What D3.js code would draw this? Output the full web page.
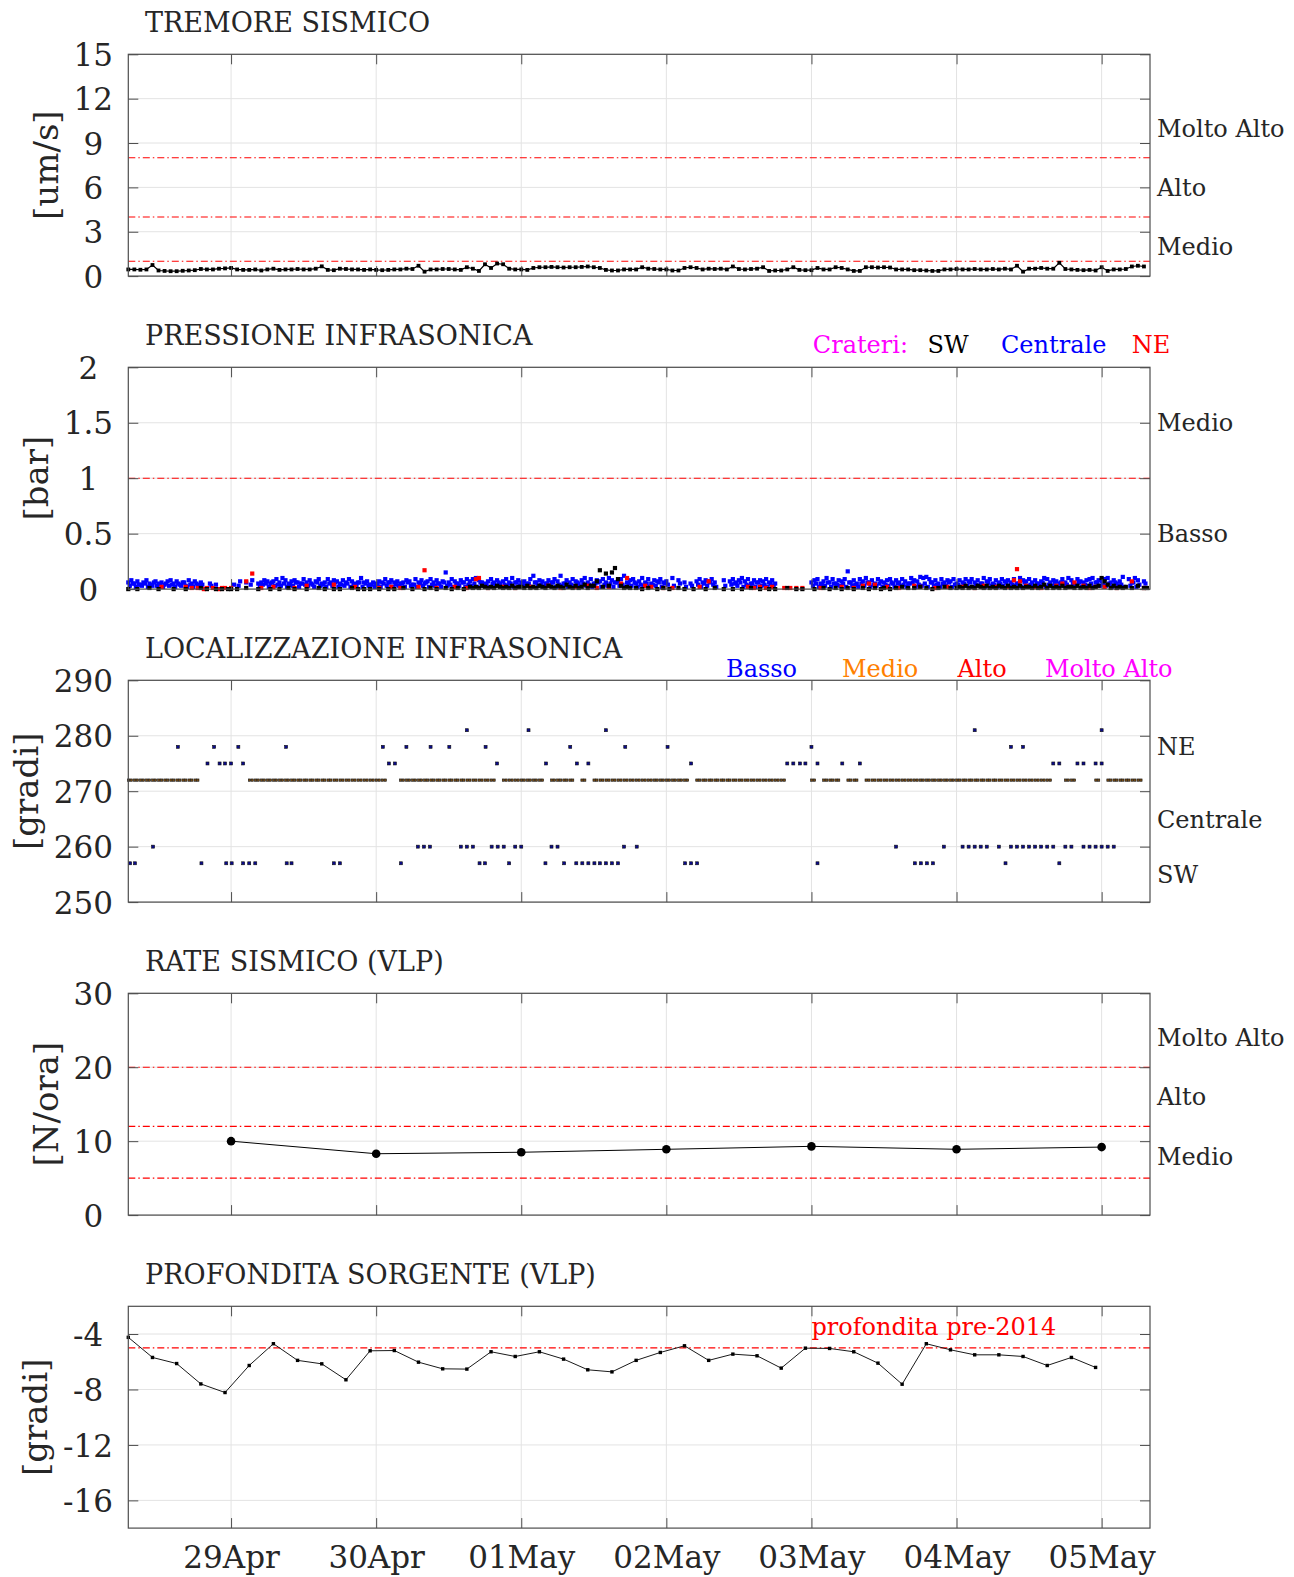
<!DOCTYPE html>
<html>
<head>
<meta charset="utf-8">
<script src="https://cdn.jsdelivr.net/npm/d3@7"></script>
<style>
body { margin: 0; background: #fff; }
text { font-family: "DejaVu Serif", serif; fill: #262626; }
</style>
</head>
<body>
<div id="chart"></div>
<script>
// time axis runs from 28Apr 07:00 to 05May 08:00
var startTime = new Date(Date.UTC(2021, 3, 28, 7));
var endTime = new Date(Date.UTC(2021, 4, 5, 8));
var dayTicks = d3.utcDay.range(new Date(Date.UTC(2021, 3, 29)), new Date(Date.UTC(2021, 4, 5, 1)));

var panelTitles = ["TREMORE SISMICO", "PRESSIONE INFRASONICA", "LOCALIZZAZIONE INFRASONICA", "RATE SISMICO (VLP)", "PROFONDITA SORGENTE (VLP)"];
var yLabels = ["[um/s]", "[bar]", "[gradi]", "[N/ora]", "[gradi]"];
var yDomains = [[0, 15], [0, 2], [250, 290], [0, 30], [-18, -2]];
var yTickVals = [[0, 3, 6, 9, 12, 15], [0, 0.5, 1, 1.5, 2], [250, 260, 270, 280, 290], [0, 10, 20, 30], [-16, -12, -8, -4]];

// soglie (linee rosse tratto-punto)
var thresholds = [[1, 4, 8], [1], [], [5, 12, 20], [-5]];
// etichette di livello a destra
var levelNames = [["Medio", "Alto", "Molto Alto"], ["Basso", "Medio"], ["SW", "Centrale", "NE"], ["Medio", "Alto", "Molto Alto"], []];
var levelPos = [[2, 6, 10], [0.5, 1.5], [255, 265, 278], [8, 16, 24], []];

// tremore: un valore ogni ora dalle 07:00 del 28Apr
var tremor = [
  0.45,0.45,0.43,0.45,0.75,0.38,0.35,0.33,0.33,0.36,
  0.38,0.40,0.48,0.45,0.45,0.50,0.52,0.55,0.45,0.42,
  0.42,0.45,0.38,0.45,0.50,0.42,0.45,0.45,0.48,0.45,
  0.45,0.50,0.66,0.42,0.40,0.50,0.48,0.45,0.45,0.42,
  0.45,0.42,0.40,0.42,0.45,0.45,0.50,0.48,0.70,0.30,
  0.45,0.45,0.48,0.48,0.45,0.42,0.60,0.50,0.35,0.80,
  0.55,0.85,0.80,0.50,0.45,0.45,0.42,0.55,0.60,0.60,
  0.62,0.60,0.58,0.60,0.60,0.62,0.65,0.60,0.55,0.42,
  0.38,0.38,0.45,0.45,0.45,0.60,0.50,0.48,0.45,0.45,
  0.38,0.38,0.55,0.60,0.55,0.45,0.50,0.48,0.50,0.45,
  0.65,0.48,0.45,0.48,0.50,0.60,0.35,0.38,0.38,0.45,
  0.60,0.42,0.40,0.40,0.55,0.45,0.45,0.60,0.55,0.45,
  0.35,0.35,0.60,0.60,0.58,0.60,0.58,0.45,0.45,0.45,
  0.40,0.40,0.38,0.35,0.35,0.45,0.45,0.48,0.45,0.45,
  0.48,0.45,0.45,0.48,0.45,0.50,0.45,0.70,0.30,0.50,
  0.50,0.55,0.50,0.50,0.90,0.48,0.45,0.42,0.40,0.42,
  0.38,0.60,0.35,0.45,0.45,0.48,0.65,0.70,0.65
];

// pressione: un carattere ogni 30 min, valore in centesimi di bar (base 36), "-" = nessun dato
// la prima stringa parte dalle 07:00 del 28Apr, le altre dalla mezzanotte dei giorni seguenti
var centraleDays = [
  "68574685" + "37564785" + "74638574" + "6--5-4--" + "--",
  "-4-7-6-8" + "-5687579" + "6a857865" + "96847956" + "96875869" + "756a6746",
  "57696867" + "56874968" + "5796857f" + "69758697" + "9a865796" + "85796a68",
  "6759c687" + "58697c58" + "69758a69" + "58796a86" + "79c68957" + "a6958796",
  "7-a-8-6-" + "5-796879" + "6--8-796" + "8a795868" + "79685---" + "--------",
  "68957a69" + "5879g685" + "97a68597" + "68958697" + "5a87bab9" + "68596879",
  "58697968" + "5a795869" + "78695a87" + "96857a96" + "87596a85" + "97689a68",
  "79a6857b" + "-96a8-7-"
];
// seconda serie di punti del cratere centrale, sfasata di 15 min
var centraleDays2 = [
  "35243524" + "63425342" + "53624253" + "4--3----" + "--",
  "--3---4-" + "-3452634" + "35243625" + "43526342" + "53624352" + "43625342",
  "42536243" + "52634253" + "62435263" + "42536243" + "52634253" + "62435263",
  "43526342" + "53624352" + "43625342" + "56243526" + "34253624" + "35243625",
  "4-3-5-2-" + "3-425364" + "2--3-453" + "62435263" + "4253----" + "--------",
  "35243625" + "43526342" + "53624352" + "43625342" + "56243526" + "34253624",
  "42536243" + "52634253" + "62435263" + "42536243" + "52634253" + "62435263",
  "43526342" + "-3624-5-"
];
var swDays = [
  "0--0---1" + "--0----0" + "---0----" + "1-0--0-0" + "-0",
  "0-0--1--" + "-0---0--" + "0--1-0--" + "-0---1-0" + "--0-0---" + "1-0-0-0-",
  "-0--0-0-" + "-1--0---" + "0-1-0--1" + "-0-1-0-2" + "12132121" + "32121312",
  "21312132" + "13213214" + "21312413" + "37h2e3fj" + "93121-1-" + "0-1--0-1",
  "-0--1-0-" + "-0---0--" + "1--0--0-" + "-0--1--0" + "--0-0---" + "1--0-0--",
  "-0--1-0-" + "1-0-1-0-" + "-1-0-1-0" + "1-0-1-2-" + "1-1-2-1-" + "0-1-2-1-",
  "12131213" + "21312132" + "13121312" + "21312413" + "12131221" + "31213123",
  "a7413121" + "2-1-3-11"
];
var neDays = [
  "--------" + "---2----" + "---2-1-1" + "-01-1-01" + "1-",
  "1----7-e" + "--1---2-" + "-----1--" + "-3------" + "--4-----" + "-2------",
  "-1---2--" + "1-----2-" + "h---1---" + "--2---1-" + "-9a--1--" + "--2---1-",
  "---2----" + "-3---1--" + "--2---3-" + "-1---2--" + "-5-a----" + "-3-2---1",
  "--1-----" + "---2--7-" + "--------" + "---2-1-2" + "-1-2---1" + "-1-1-1--",
  "---1----" + "--2---1-" + "-3-5-4--" + "-2---1--" + "--3-2---" + "-1---2--",
  "--2---1-" + "-3---2--" + "-2-8i7-3" + "--2-1---" + "-3-5-2-6" + "--3-1-2-",
  "-2---1--" + "--7---1-"
];

// localizzazione: ore dalle 07:00 del 28Apr per ogni livello di azimut
var loc272 = "111111111111" + "00000000" + "11111111111111111111111" + "00" + "1111111111111111" + "0" +
  "1111111" + "0" + "1111" + "0" + "1" + "0" + "1111111111111111" + "0" + "111111111111111" + "0000" +
  "1" + "0" + "111" + "0" + "11" + "0" + "1111111111111111111111111111111" + "00" + "11" + "000" + "1" + "0" + "111111" + "0";
var loc257 = [0.3, 1.1, 12.1, 16.2, 17.1, 19, 20, 21, 26.2, 27, 34, 35, 45.1, 58.1, 59, 63, 69, 72.1, 74.1, 75.1, 76.1, 77.1, 78, 79, 80, 81,
  92.1, 93.1, 94.1, 114, 130.1, 131.1, 132.1, 133.1, 145.1, 154];
var loc260 = [4.1, 47.9, 48.9, 49.9, 55, 56, 57, 60.1, 61.1, 62.1, 64, 65, 70, 71, 82, 84.1, 127, 134.9, 138, 139, 140, 141, 142, 144,
  146, 147, 148, 149, 150, 151, 152, 153, 155, 156, 158, 159, 160, 161, 162, 163];
var loc275 = [13.1, 15.1, 16, 17, 19, 43.1, 44.1, 61, 69.1, 74.2, 76.1, 93.1, 109, 110, 111.1, 112, 114, 118.1, 121, 153, 154, 157, 158, 160, 161];
var loc278 = [8.2, 14.2, 18.2, 26.1, 42.1, 46, 50, 53.1, 59.1, 73.1, 82.2, 89.2, 113, 146, 148];
var loc281 = [56, 66.2, 79, 140, 161];

// rate VLP: un valore al giorno (29Apr ... 05May)
var rateValues = [10, 8.3, 8.5, 8.9, 9.3, 8.9, 9.2];

// profondita: un valore ogni 4 ore dalle 07:00 del 28Apr
var depthValues = [-4.24, -5.69, -6.13, -7.6, -8.22, -6.27, -4.70, -5.9, -6.15, -7.3, -5.21, -5.19, -6.03, -6.51, -6.53,
  -5.28, -5.62, -5.28, -5.81, -6.58, -6.73, -5.9, -5.33, -4.85, -5.9, -5.45, -5.57, -6.46, -5.02, -5.04, -5.28, -6.1,
  -7.62, -4.70, -5.14, -5.5, -5.5, -5.62, -6.27, -5.69, -6.41];

var W = 1294, H = 1577;
var left = 128.3, right = 1150;
var panelTop = [54.3, 367.3, 680.3, 993.3, 1306.3];
var panelH = 221.8;
var axisColor = "#4d4d4d", gridColor = "#e3e3e3";

var svg = d3.select("#chart").append("svg")
    .attr("width", W)
    .attr("height", H);

var x = d3.scaleUtc().domain([startTime, endTime]).range([left, right]);

function hoursAfterStart(h) {
    return d3.utcMinute.offset(startTime, Math.round(h * 60));
}

function decodeDays(days, shiftMin) {
    var pts = [];
    days.forEach(function(s, d) {
        var t0 = d === 0 ? startTime : new Date(Date.UTC(2021, 3, 28 + d));
        for (var i = 0; i < s.length; i++) {
            if (s[i] === '-') continue;
            pts.push({ t: d3.utcMinute.offset(t0, 30 * i + (shiftMin || 0)), v: parseInt(s[i], 36) / 100 });
        }
    });
    return pts;
}

function makePanel(k) {
    var top = panelTop[k], bottom = top + panelH;
    var y = d3.scaleLinear().domain(yDomains[k]).range([bottom, top]);
    var g = svg.append("g");

    // griglia
    g.selectAll(".hgrid").data(yTickVals[k]).enter().append("line")
        .attr("x1", left).attr("x2", right)
        .attr("y1", function(d) { return y(d); }).attr("y2", function(d) { return y(d); })
        .attr("stroke", gridColor).attr("stroke-width", 1);
    g.selectAll(".vgrid").data(dayTicks).enter().append("line")
        .attr("x1", function(d) { return x(d); }).attr("x2", function(d) { return x(d); })
        .attr("y1", top).attr("y2", bottom)
        .attr("stroke", gridColor).attr("stroke-width", 1);

    // soglie
    g.selectAll(".thr").data(thresholds[k]).enter().append("line")
        .attr("x1", left).attr("x2", right)
        .attr("y1", function(d) { return y(d); }).attr("y2", function(d) { return y(d); })
        .attr("stroke", "#ff0000").attr("stroke-width", 1.1)
        .attr("stroke-dasharray", "7,3,1.5,3");

    var data = g.append("g");

    // assi
    var axes = svg.append("g");
    var la = axes.append("g").attr("transform", "translate(" + left + ",0)")
        .call(d3.axisLeft(y).tickValues(yTickVals[k]).tickSize(-10).tickSizeOuter(0).tickPadding(0)
            .tickFormat(function(d) { return String(d); }));
    var ra = axes.append("g").attr("transform", "translate(" + right + ",0)")
        .call(d3.axisRight(y).tickValues(yTickVals[k]).tickSize(-10).tickSizeOuter(0).tickFormat(""));
    var ta = axes.append("g").attr("transform", "translate(0," + top + ")")
        .call(d3.axisTop(x).tickValues(dayTicks).tickSize(-10).tickSizeOuter(0).tickFormat(""));
    var ba = axes.append("g").attr("transform", "translate(0," + bottom + ")")
        .call(d3.axisBottom(x).tickValues(dayTicks).tickSize(-10).tickSizeOuter(0)
            .tickFormat(k === 4 ? d3.utcFormat("%d%b") : ""));
    axes.selectAll(".domain").remove();
    axes.selectAll(".tick line").attr("stroke", axisColor).attr("stroke-width", 1);
    axes.selectAll("text").attr("fill", "#262626").attr("font-family", "DejaVu Serif, serif");
    axes.append("rect")
        .attr("x", left).attr("y", top)
        .attr("width", right - left).attr("height", panelH)
        .attr("fill", "none").attr("stroke", axisColor).attr("stroke-width", 1.2);

    // etichette tick a sinistra, centrate nella colonna
    var lt = la.selectAll("text").attr("font-size", 31);
    var maxW = 0;
    lt.each(function() { maxW = Math.max(maxW, this.getComputedTextLength()); });
    var colCenter = 113 - maxW / 2;
    lt.attr("text-anchor", "middle").attr("x", colCenter - left).attr("dy", "0.36em");

    ba.selectAll("text").attr("font-size", 31).attr("y", 40).attr("dy", 0);

    // etichetta asse y
    var lx = 113 - maxW - 16;
    svg.append("text")
        .attr("transform", "translate(" + lx + "," + (top + bottom) / 2 + ") rotate(-90)")
        .attr("text-anchor", "middle")
        .attr("font-size", 34)
        .text(yLabels[k]);

    // titolo
    svg.append("text")
        .attr("x", 145).attr("y", top - 22)
        .attr("font-size", 27)
        .text(panelTitles[k]);

    // livelli a destra
    svg.selectAll(null).data(levelNames[k]).enter().append("text")
        .attr("x", 1157)
        .attr("y", function(d, i) { return y(levelPos[k][i]); })
        .attr("dy", "0.36em")
        .attr("font-size", 24)
        .text(function(d) { return d; });

    return { g: data, y: y, top: top, bottom: bottom };
}

var panels = [0, 1, 2, 3, 4].map(makePanel);

function squares(g, pts, size, fill, stroke, sw) {
    g.selectAll(null).data(pts).enter().append("rect")
        .attr("x", function(d) { return d.px - size / 2; })
        .attr("y", function(d) { return d.py - size / 2; })
        .attr("width", size).attr("height", size)
        .attr("fill", fill)
        .attr("stroke", stroke || "none")
        .attr("stroke-width", sw || 0);
}

// 1) tremore
(function() {
    var p = panels[0];
    var pts = tremor.map(function(v, i) {
        return { px: x(d3.utcHour.offset(startTime, i)), py: p.y(v) };
    });
    p.g.append("path")
        .attr("d", d3.line().x(function(d) { return d.px; }).y(function(d) { return d.py; })(pts))
        .attr("fill", "none").attr("stroke", "#000").attr("stroke-width", 1.2);
    squares(p.g, pts, 3.8, "#000");
})();

// 2) pressione
(function() {
    var p = panels[1];
    function toPx(list) {
        return list.map(function(d) { return { px: x(d.t), py: p.y(d.v) }; });
    }
    squares(p.g, toPx(decodeDays(centraleDays2, 15)), 4.2, "#0000ff");
    squares(p.g, toPx(decodeDays(centraleDays)), 4.2, "#0000ff");
    squares(p.g, toPx(decodeDays(neDays)), 4.2, "#ff0000");
    squares(p.g, toPx(decodeDays(swDays)), 4.2, "#000000");

    var legNames = ["Crateri:", "SW", "Centrale", "NE"];
    var legColors = ["#ff00ff", "#000000", "#0000ff", "#ff0000"];
    var legX = [812.8, 927.5, 1001, 1131.7];
    svg.selectAll(null).data(legNames).enter().append("text")
        .attr("x", function(d, i) { return legX[i]; })
        .attr("y", p.top - 14)
        .attr("font-size", 24)
        .style("fill", function(d, i) { return legColors[i]; })
        .text(function(d) { return d; });
})();

// 3) localizzazione
(function() {
    var p = panels[2];
    var pts = [];
    for (var h = 0; h < loc272.length; h++) {
        if (loc272[h] !== '1') continue;
        pts.push({ px: x(hoursAfterStart(h + 0.05)), py: p.y(272), c: "#7a4d14", s: 2.3 });
        pts.push({ px: x(hoursAfterStart(h + 0.5)), py: p.y(272), c: "#7a4d14", s: 2.3 });
    }
    [[257, loc257], [260, loc260], [275, loc275], [278, loc278], [281, loc281]].forEach(function(lv) {
        lv[1].forEach(function(h) {
            pts.push({ px: x(hoursAfterStart(h)), py: p.y(lv[0]), c: "#0a0a8c", s: 3 });
        });
    });
    p.g.selectAll(null).data(pts).enter().append("rect")
        .attr("x", function(d) { return d.px - d.s / 2; })
        .attr("y", function(d) { return d.py - d.s / 2; })
        .attr("width", function(d) { return d.s; }).attr("height", function(d) { return d.s; })
        .attr("fill", function(d) { return d.c; })
        .attr("stroke", "#111").attr("stroke-width", 0.6);

    var legNames = ["Basso", "Medio", "Alto", "Molto Alto"];
    var legColors = ["#0000ff", "#ff8000", "#ff0000", "#ff00ff"];
    var legX = [726, 842, 957.5, 1045];
    svg.selectAll(null).data(legNames).enter().append("text")
        .attr("x", function(d, i) { return legX[i]; })
        .attr("y", p.top - 3.5)
        .attr("font-size", 24)
        .style("fill", function(d, i) { return legColors[i]; })
        .text(function(d) { return d; });
})();

// 4) rate VLP
(function() {
    var p = panels[3];
    var pts = rateValues.map(function(v, i) { return { px: x(dayTicks[i]), py: p.y(v) }; });
    p.g.append("path")
        .attr("d", d3.line().x(function(d) { return d.px; }).y(function(d) { return d.py; })(pts))
        .attr("fill", "none").attr("stroke", "#000").attr("stroke-width", 1);
    p.g.selectAll(null).data(pts).enter().append("circle")
        .attr("cx", function(d) { return d.px; }).attr("cy", function(d) { return d.py; })
        .attr("r", 4.3).attr("fill", "#000");
})();

// 5) profondita
(function() {
    var p = panels[4];
    var pts = depthValues.map(function(v, i) {
        return { px: x(d3.utcHour.offset(startTime, 4 * i)), py: p.y(v) };
    });
    p.g.append("path")
        .attr("d", d3.line().x(function(d) { return d.px; }).y(function(d) { return d.py; })(pts))
        .attr("fill", "none").attr("stroke", "#1a1a1a").attr("stroke-width", 1);
    squares(p.g, pts, 3.4, "#000");

    svg.append("text")
        .attr("x", x(dayTicks[4]))
        .attr("y", p.y(-4.05))
        .attr("font-size", 24)
        .style("fill", "#ff0000")
        .text("profondita pre-2014");
})();
</script>
</body>
</html>
